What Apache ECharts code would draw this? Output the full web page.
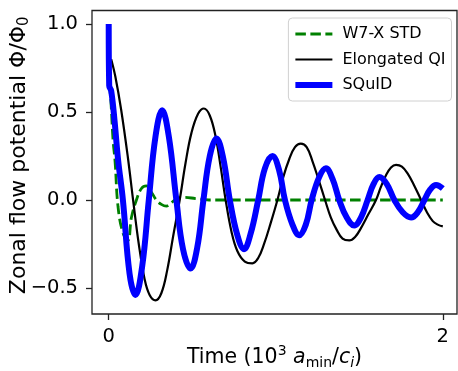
<!DOCTYPE html>
<html><head><meta charset="utf-8">
<script src="https://cdn.jsdelivr.net/npm/echarts@6/dist/echarts.min.js"></script>
<style>html,body{margin:0;padding:0;background:#fff}#c{width:458px;height:371px}</style>
</head><body><div id="c"></div>
<script>
const seriesNames = ['W7-X STD', 'Elongated QI', 'SQuID'];
const xTicks = [0, 2];
const xTickLabels = ['0', '2'];
const yTicks = [-0.5, 0, 0.5, 1.0];
const yTickLabels = ['\u22120.5', '0.0', '0.5', '1.0'];

const w7xT = [0,0.004,0.012,0.026,0.038,0.056,0.086,0.115,0.136,0.166,0.196,0.225,0.255,0.285,0.315,0.345,0.375,0.405,0.455,0.52,0.6,1.0,1.5,2.0];
const w7xY = [1.0,0.66,0.58,0.34,0.22,-0.04,-0.19,-0.23,-0.10,0.0,0.065,0.08,0.045,0.0,-0.025,-0.035,-0.015,0.005,0.015,0.008,0.0,0.0,0.0,0.0];

const qiT = [0.015,0.04,0.075,0.115,0.146,0.18,0.215,0.245,0.28,0.315,0.35,0.385,0.425,0.46,0.495,0.535,0.57,0.605,0.64,0.67,0.70,0.735,0.77,0.815,0.86,0.895,0.93,0.97,1.01,1.045,1.08,1.115,1.15,1.185,1.22,1.255,1.295,1.33,1.365,1.40,1.44,1.475,1.51,1.555,1.60,1.63,1.66,1.69,1.72,1.755,1.79,1.83,1.87,1.905,1.94,1.97,2.0];
const qiY = [0.80,0.70,0.51,0.24,0.0,-0.25,-0.45,-0.54,-0.57,-0.53,-0.40,-0.21,0.0,0.21,0.38,0.49,0.52,0.48,0.36,0.19,0.0,-0.18,-0.29,-0.35,-0.36,-0.33,-0.25,-0.13,0.0,0.13,0.23,0.30,0.32,0.30,0.22,0.12,0.0,-0.10,-0.17,-0.22,-0.23,-0.21,-0.16,-0.08,0.0,0.076,0.14,0.185,0.20,0.19,0.15,0.08,0.0,-0.07,-0.12,-0.14,-0.15];

const squidT = [0,0.003,0.015,0.035,0.056,0.085,0.125,0.16,0.20,0.24,0.28,0.32,0.36,0.405,0.445,0.49,0.53,0.567,0.605,0.645,0.685,0.725,0.77,0.81,0.85,0.895,0.935,0.98,1.02,1.055,1.10,1.14,1.18,1.215,1.26,1.30,1.34,1.38,1.425,1.47,1.51,1.55,1.585,1.62,1.665,1.71,1.76,1.81,1.85,1.89,1.925,1.96,2.0];
const squidY = [1.0,0.65,0.62,0.45,0.23,0.0,-0.42,-0.54,-0.38,0.0,0.36,0.51,0.36,0.0,-0.28,-0.39,-0.27,0.0,0.25,0.35,0.24,0.0,-0.20,-0.28,-0.19,0.0,0.18,0.25,0.17,0.0,-0.14,-0.20,-0.14,0.0,0.13,0.18,0.12,0.0,-0.10,-0.145,-0.10,0.0,0.09,0.13,0.09,0.0,-0.07,-0.10,-0.07,0.0,0.06,0.085,0.065];

const zip = (t, y) => t.map((v, i) => [v, y[i]]);
const FONT = 'DejaVu Sans';
const richX = {
  sup: { fontSize: 14, fontFamily: FONT, color: '#000', padding: [0, 0, 13, 0], lineHeight: 20 },
  sub: { fontSize: 14, fontFamily: FONT, color: '#000', padding: [10, 0, 0, 0], lineHeight: 20 },
  subi: { fontSize: 14, fontFamily: FONT, fontStyle: 'italic', color: '#000', padding: [10, 0, 0, 0], lineHeight: 20 },
  it: { fontSize: 20.5, fontFamily: FONT, fontStyle: 'italic', color: '#000', lineHeight: 20 }
};
const richY = {
  sub: { fontSize: 15, fontFamily: FONT, color: '#000', padding: [11, 0, 0, 0], lineHeight: 22 }
};

const chart = echarts.init(document.getElementById('c'), null, { renderer: 'canvas' });
chart.setOption({
  animation: false,
  backgroundColor: '#fff',
  grid: { left: 92, right: 1, top: 10.5, bottom: 57, show: true, borderColor: '#222', borderWidth: 1.3,
          backgroundColor: 'transparent', containLabel: false, outerBoundsMode: 'none' },
  xAxis: {
    type: 'value', min: -0.1, max: 2.085,
    name: 'Time (10{sup|3} {it|a}{sub|min}/{it|c}{subi|i})',
    nameLocation: 'middle', nameGap: 34, nameMoveOverlap: false,
    nameTextStyle: { fontSize: 20.5, fontFamily: FONT, color: '#000', lineHeight: 20, rich: richX },
    axisLine: { show: false, onZero: false },
    splitLine: { show: false },
    axisTick: { show: true, inside: false, length: 6, customValues: xTicks, lineStyle: { color: '#222', width: 1.3 } },
    axisLabel: { customValues: xTicks, formatter: v => xTickLabels[xTicks.indexOf(v)], fontSize: 19.5, fontFamily: FONT, color: '#000', margin: 13 }
  },
  yAxis: {
    type: 'value', min: -0.648, max: 1.077,
    name: 'Zonal flow potential \u03a6/\u03a6{sub|0}',
    nameLocation: 'middle', nameGap: 62, nameMoveOverlap: false,
    nameTextStyle: { fontSize: 22, fontFamily: FONT, color: '#000', lineHeight: 22, padding: [0, 0, 0, 14], rich: richY },
    axisLine: { show: false, onZero: false },
    splitLine: { show: false },
    axisTick: { show: true, inside: false, length: 6, customValues: yTicks, lineStyle: { color: '#222', width: 1.3 } },
    axisLabel: { customValues: yTicks, formatter: v => yTickLabels[yTicks.indexOf(v)], fontSize: 19.5, fontFamily: FONT, color: '#000', margin: 14 }
  },
  legend: {
    orient: 'vertical', right: 6.5, top: 18,
    padding: [8, 6, 8, 4], itemWidth: 37, itemHeight: 14, itemGap: 9.5,
    backgroundColor: '#fff', borderColor: '#d0d0d0', borderWidth: 1, borderRadius: 4,
    itemStyle: { opacity: 0 },
    textStyle: { fontFamily: FONT, fontSize: 16, color: '#000', padding: [0, 0, 0, 5], lineHeight: 14 },
    data: [
      { name: seriesNames[0], lineStyle: { width: 2.8 } },
      { name: seriesNames[1], lineStyle: { width: 2.2 } },
      { name: seriesNames[2], lineStyle: { width: 6 } }
    ]
  },
  series: [
    { name: seriesNames[0], type: 'line', data: zip(w7xT, w7xY), symbol: 'none', smooth: 0.4,
      lineStyle: { color: '#008000', width: 2.8, type: [10.5, 4.5] }, itemStyle: { color: '#008000' } },
    { name: seriesNames[1], type: 'line', data: zip(qiT, qiY), symbol: 'none', smooth: 0.4,
      lineStyle: { color: '#000000', width: 2.2 }, itemStyle: { color: '#000000' } },
    { name: seriesNames[2], type: 'line', data: zip(squidT, squidY), symbol: 'none', smooth: 0.4,
      lineStyle: { color: '#0000ff', width: 6 }, itemStyle: { color: '#0000ff' } }
  ]
});
</script></body></html>
